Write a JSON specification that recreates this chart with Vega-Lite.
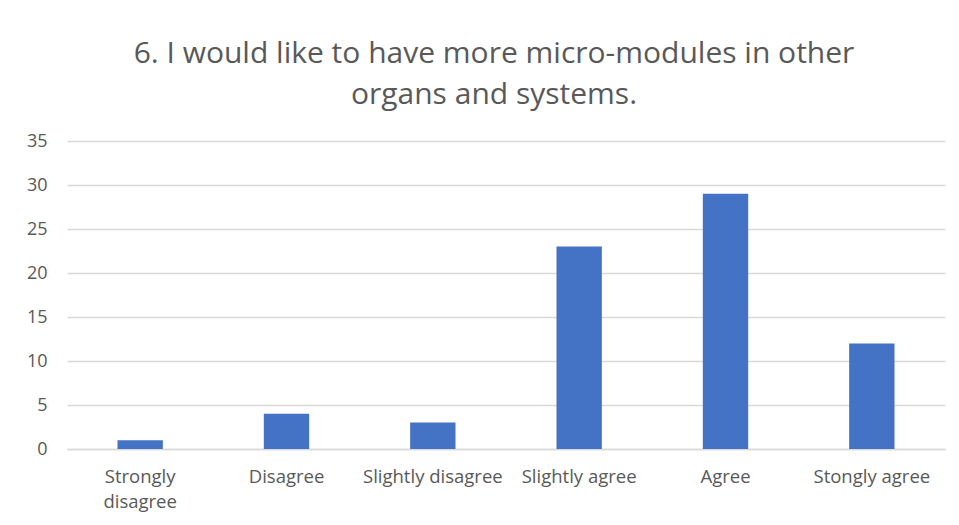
{
  "$schema": "https://vega.github.io/schema/vega-lite/v6.json",
  "width": 878,
  "height": 308,
  "autosize": "none",
  "padding": {"left": 67, "top": 141, "right": 14, "bottom": 76},
  "background": "white",
  "title": {
    "text": ["6. I would like to have more micro-modules in other", "organs and systems."],
    "font": "Open Sans",
    "fontSize": 30,
    "fontWeight": "normal",
    "color": "#595959",
    "anchor": "middle",
    "frame": "group",
    "dx": -12,
    "offset": 22,
    "lineHeight": 41
  },
  "data": {
    "values": [
      {"response": "Strongly disagree", "count": 1},
      {"response": "Disagree", "count": 4},
      {"response": "Slightly disagree", "count": 3},
      {"response": "Slightly agree", "count": 23},
      {"response": "Agree", "count": 29},
      {"response": "Stongly agree", "count": 12}
    ]
  },
  "mark": {"type": "bar", "color": "#4472C4"},
  "encoding": {
    "x": {
      "field": "response",
      "type": "nominal",
      "sort": null,
      "scale": {"paddingInner": 0.69, "paddingOuter": 0.345},
      "axis": {
        "title": null,
        "labelAngle": 0,
        "labelFont": "Open Sans",
        "labelFontSize": 18.5,
        "labelColor": "#595959",
        "labelPadding": 18,
        "labelLineHeight": 25,
        "labelExpr": "datum.value == 'Strongly disagree' ? ['Strongly', 'disagree'] : datum.value",
        "ticks": false,
        "domainColor": "#d9d9d9",
        "domainWidth": 1.5,
        "grid": false
      }
    },
    "y": {
      "field": "count",
      "type": "quantitative",
      "scale": {"domain": [0, 35]},
      "axis": {
        "title": null,
        "values": [0, 5, 10, 15, 20, 25, 30, 35],
        "labelFont": "Open Sans",
        "labelFontSize": 18,
        "labelColor": "#595959",
        "labelPadding": 20,
        "ticks": false,
        "domain": false,
        "gridColor": "#d9d9d9",
        "gridWidth": 1.5
      }
    }
  },
  "config": {
    "view": {"stroke": null}
  }
}
